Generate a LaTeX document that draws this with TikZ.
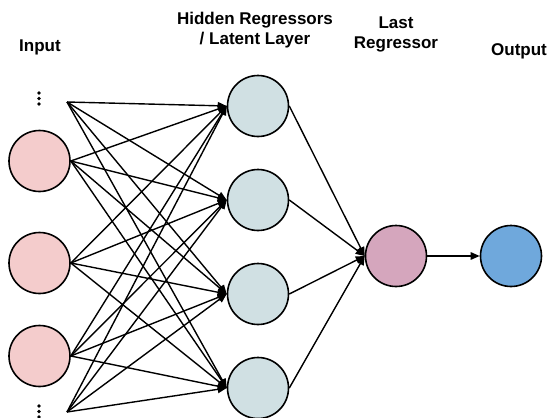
\documentclass[tikz,border=0pt]{standalone}
\usepackage{fontspec}
\setmainfont{Liberation Sans}
\usetikzlibrary{arrows.meta}
\definecolor{inpink}{HTML}{F4CCCC}
\definecolor{hidcyan}{HTML}{D0E0E3}
\definecolor{lastmag}{HTML}{D5A6BD}
\definecolor{outblue}{HTML}{6FA8DC}
\tikzset{
  neuron/.style={circle,draw=black,line width=1.6pt,minimum size=61pt,inner sep=0pt},
  conn/.style={line width=1.4pt,-{Triangle[length=9pt,width=7.5pt]}},
  lbl/.style={font=\bfseries\fontsize{17}{20}\selectfont,anchor=base,inner sep=0pt,align=center},
  dotmark/.style={circle,fill=black,inner sep=0pt,minimum size=3.6pt}
}
\begin{document}
\begin{tikzpicture}[x=1pt,y=-1pt]
\useasboundingbox (0,0) rectangle (552,418);
% labels
\node[lbl] (linput) at (40,51) {Input};
\node[lbl] (lhid1) at (255,24) {Hidden Regressors};
\node[lbl] (lhid2) at (255,44) {/ Latent Layer};
\node[lbl] (llast1) at (396,28) {Last};
\node[lbl] (llast2) at (396,48) {Regressor};
\node[lbl] (lout) at (519,55) {Output};
% input nodes
\node[neuron,fill=inpink] (i1) at (39.5,161) {};
\node[neuron,fill=inpink] (i2) at (39.5,263) {};
\node[neuron,fill=inpink] (i3) at (39.5,356) {};
% dots
\node[dotmark] (dt1) at (39,93) {};
\node[dotmark] (dt2) at (39,98.5) {};
\node[dotmark] (dt3) at (39,104) {};
\node[dotmark] (db1) at (39,406) {};
\node[dotmark] (db2) at (39,411.5) {};
\node[dotmark] (db3) at (39,417) {};
\coordinate (itop) at (67,102);
\coordinate (ibot) at (67,412);
% hidden nodes
\node[neuron,fill=hidcyan] (h1) at (258,106) {};
\node[neuron,fill=hidcyan] (h2) at (258,200) {};
\node[neuron,fill=hidcyan] (h3) at (258,294) {};
\node[neuron,fill=hidcyan] (h4) at (258,388) {};
% last and output
\node[neuron,fill=lastmag] (last) at (396,256) {};
\node[neuron,fill=outblue] (out) at (511,256) {};
% connections input -> hidden
\foreach \h in {h1,h2,h3,h4}{
  \draw[conn] (itop) -- (\h.west);
  \draw[conn] (i1.east) -- (\h.west);
  \draw[conn] (i2.east) -- (\h.west);
  \draw[conn] (i3.east) -- (\h.west);
  \draw[conn] (ibot) -- (\h.west);
}
\foreach \h in {h1,h2,h3,h4}{
  \draw[conn] (\h.east) -- (last.west);
}
\draw[conn] (last.east) -- (out.west);
\end{tikzpicture}
\end{document}
